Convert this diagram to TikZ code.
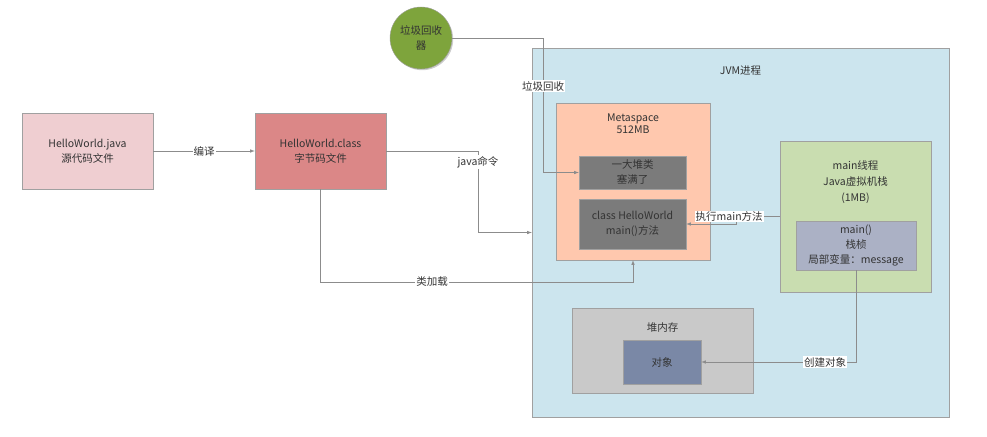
\documentclass[tikz,border=0pt]{standalone}
\usepackage{fontspec}
\setmainfont{Noto Sans CJK SC}
\usetikzlibrary{positioning,arrows,shadows}
\definecolor{txt}{HTML}{333333}
\definecolor{edge}{HTML}{A0A0A0}
\definecolor{wire}{HTML}{8C8C8C}
\definecolor{srcpink}{HTML}{EFCED1}
\definecolor{clsred}{HTML}{DB8787}
\definecolor{gcgreen}{HTML}{7EA43C}
\definecolor{jvmblue}{HTML}{CCE5EE}
\definecolor{metaorange}{HTML}{FFC8AE}
\definecolor{darkgray}{HTML}{7B7B7B}
\definecolor{thgreen}{HTML}{C9DDB0}
\definecolor{frmblue}{HTML}{ABB1C5}
\definecolor{heapgray}{HTML}{C9C9C9}
\definecolor{objblue}{HTML}{7A88A6}
\tikzset{
 b/.style
  = {rectangle, draw=edge, text=txt, align=center, inner sep=0pt,
     drop shadow={shadow xshift=1.2pt, shadow yshift=-1.2pt, opacity=0.2, fill=black}},
 t/.style
  = {anchor=center, align=center, text=txt, inner sep=0pt},
 l/.style
  = {draw=wire, ->, >=latex, line width=0.6pt},
 lbl/.style
  = {fill=white, inner sep=1pt, text=txt},
}

\begin{document}
\begin{tikzpicture}[x=1pt, y=-1pt, font=\fontsize{10.5}{15}\selectfont]
    \useasboundingbox (0,0) rectangle (987,436);

    \node [b, fill=srcpink, minimum width=131, minimum height=76] (src) at (87.5,151) {HelloWorld.java\\ 源代码文件};
    \node [b, fill=clsred, minimum width=131, minimum height=76] (cls) at (320.5,151) {HelloWorld.class\\ 字节码文件};
    \node [b, circle, fill=gcgreen, minimum size=62] (gc) at (421,38) {垃圾回收\\ 器};

    \node [b, fill=jvmblue, minimum width=417, minimum height=369,
           label={[t, yshift=-22.4pt]north:JVM进程}] (jvm) at (740.5,232.5) {};
    \node [b, fill=metaorange, minimum width=154, minimum height=157,
           label={[t, yshift=-21pt, font=\fontsize{10.5}{12.5}\selectfont]north:Metaspace\\ 512MB}] (meta) at (633,181.5) {};
    \node [b, fill=darkgray, minimum width=107, minimum height=33] (full) at (632.5,172.5) {一大堆类\\ 塞满了};
    \node [b, fill=darkgray, minimum width=107, minimum height=50] (hw) at (632.5,224) {class HelloWorld\\ main()方法};

    \node [b, fill=thgreen, minimum width=151, minimum height=151,
           label={[t, yshift=-41pt, font=\fontsize{10.5}{16}\selectfont]north:main线程\\ Java虚拟机栈\\ (1MB)}] (mth) at (855.5,216.5) {};
    \node [b, fill=frmblue, minimum width=120, minimum height=49] (frm) at (856,245.5) {main()\\ 栈桢\\ 局部变量：message};

    \node [b, fill=heapgray, minimum width=181, minimum height=85,
           label={[t, yshift=-20pt]north:堆内存}] (heap) at (662.5,350.5) {};
    \node [b, fill=objblue, minimum width=78, minimum height=44] (obj) at (662,362) {对象};

    \coordinate (jc) at (478,151);
    \coordinate (ld) at (320.5,282);
    \coordinate (gk) at (543,38);

    \path [l] (src) -- node[lbl]{编译} (cls);
    \path [l] (cls.east) -- (jc) -- node[lbl, pos=0.135]{java命令} (jc |- jvm.west) -- (jvm.west);
    \path [l] (cls.south) -- (ld) -- node[lbl, pos=0.357]{类加载} (ld -| meta.south) -- (meta.south);
    \path [l] (gc.east) -- (gk) -- node[lbl, pos=0.357]{垃圾回收} (gk |- full.west) -- (full.west);
    \path [l] (mth.west) -- node[lbl, pos=1.15]{执行main方法} ++(-44,0) |- (hw.east);
    \path [l] (frm.south) |- node[lbl, pos=0.6]{创建对象} (obj.east);
  \end{tikzpicture}
\end{document}
